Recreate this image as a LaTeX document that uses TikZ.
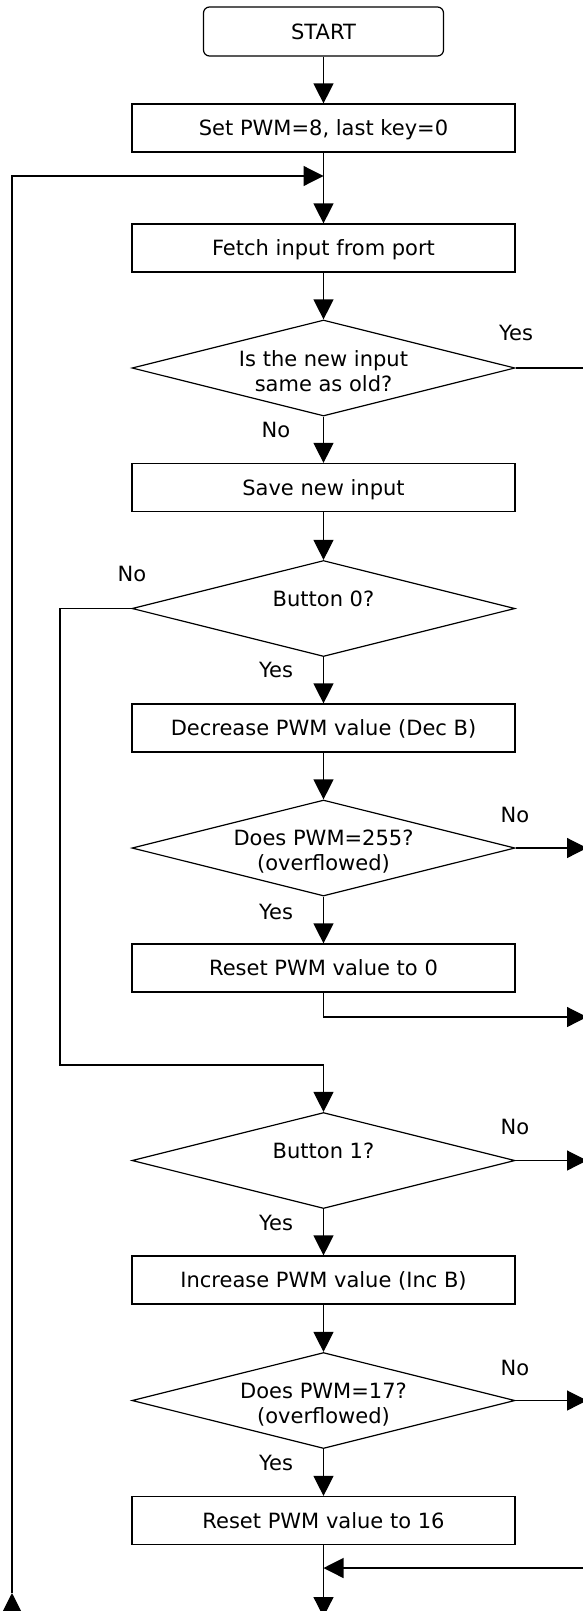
\documentclass[tikz,border=0pt]{standalone}
\usepackage{fontspec}
\setmainfont{DejaVu Sans}
\usetikzlibrary{arrows.meta,shapes.geometric}
\begin{document}
\begin{tikzpicture}[x=1pt,y=-1pt,line width=1.2pt,
  txt/.style={font=\fontsize{21}{25}\selectfont, inner sep=0pt, align=center},
  lbl/.style={font=\fontsize{21}{25}\selectfont, inner sep=0pt, text height=15.3pt, text depth=0pt},
  procbox/.style={draw, rectangle, minimum width=383pt, minimum height=48pt, inner sep=0pt,
    font=\fontsize{21}{25}\selectfont, text height=15.3pt, text depth=0pt},
  startbox/.style={procbox, rounded corners=6pt, minimum width=240pt, minimum height=49pt},
  decision/.style={draw, diamond, minimum width=383pt, minimum height=96pt, inner sep=0pt},
  arr/.style={-{Triangle[length=20pt,width=20pt]}}]
\useasboundingbox (0,0) rectangle (583,1611);
% boxes
\node[startbox] (start) at (323.5,31.5) {START};
\node[procbox] (set) at (323.5,128) {Set PWM=8, last key=0};
\node[procbox] (fetch) at (323.5,248) {Fetch input from port};
\node[decision] (d1) at (323.5,368) {};
\node[txt] (d1t) at (323.5,371) {Is the new input\\same as old?};
\node[procbox] (save) at (323.5,487.5) {Save new input};
\node[decision] (b0) at (323.5,608.5) {};
\node[lbl] (b0t) at (323.5,598.5) {Button 0?};
\node[procbox] (dec) at (323.5,728) {Decrease PWM value (Dec B)};
\node[decision] (d255) at (323.5,848) {};
\node[txt] (d255t) at (323.5,852) {Does PWM=255?\\(overflowed)};
\node[procbox] (rst0) at (323.5,968) {Reset PWM value to 0};
\node[decision] (b1) at (323.5,1160.5) {};
\node[lbl] (b1t) at (323.5,1150.5) {Button 1?};
\node[procbox] (inc) at (323.5,1280) {Increase PWM value (Inc B)};
\node[decision] (d17) at (323.5,1400.5) {};
\node[txt] (d17t) at (323.5,1404.5) {Does PWM=17?\\(overflowed)};
\node[procbox] (rst16) at (323.5,1520.5) {Reset PWM value to 16};
% labels
\node[lbl] (yes1) at (516,333) {Yes};
\node[lbl] (no1) at (276,430) {No};
\node[lbl] (nob0) at (132,574) {No};
\node[lbl] (yesb0) at (276,670) {Yes};
\node[lbl] (no255) at (515,815) {No};
\node[lbl] (yes255) at (276,912) {Yes};
\node[lbl] (nob1) at (515,1127) {No};
\node[lbl] (yesb1) at (276,1223) {Yes};
\node[lbl] (no17) at (515,1368) {No};
\node[lbl] (yes17) at (276,1463) {Yes};
% coordinates
\coordinate (loopin) at (323.5,176);
\coordinate (lbot) at (12,1614);
\coordinate (ltip) at (12,1593);
\coordinate (yesout) at (590,368);
\coordinate (b0l) at (60,1065);
\coordinate (b1in) at (323.5,1065);
\coordinate (out255) at (587,848);
\coordinate (out0) at (587,1017);
\coordinate (outb1) at (587,1160.5);
\coordinate (out17) at (587,1400.5);
\coordinate (rin) at (590,1568);
\coordinate (join) at (323.5,1568);
\coordinate (btip) at (323.5,1617);
% connectors
\draw[arr] (start) -- (set);
\draw (set) -- (loopin);
\draw[arr] (loopin) -- (fetch);
\draw[arr] (lbot) -- (ltip);
\draw[arr] (ltip) |- (loopin);
\draw[arr] (fetch) -- (d1);
\draw (d1.east) -- (yesout);
\draw[arr] (d1) -- (save);
\draw[arr] (save) -- (b0);
\draw[arr] (b0.west) -| (b0l) -- (b1in) -- (b1.north);
\draw[arr] (b0) -- (dec);
\draw[arr] (dec) -- (d255);
\draw[arr] (d255.east) -- (out255);
\draw[arr] (d255) -- (rst0);
\draw[arr] (rst0.south) |- (out0);
\draw[arr] (b1) -- (inc);
\draw[arr] (b1.east) -- (outb1);
\draw[arr] (inc) -- (d17);
\draw[arr] (d17.east) -- (out17);
\draw[arr] (d17) -- (rst16);
\draw[arr] (rst16) -- (btip);
\draw[arr] (rin) -- (join);
\end{tikzpicture}
\end{document}
